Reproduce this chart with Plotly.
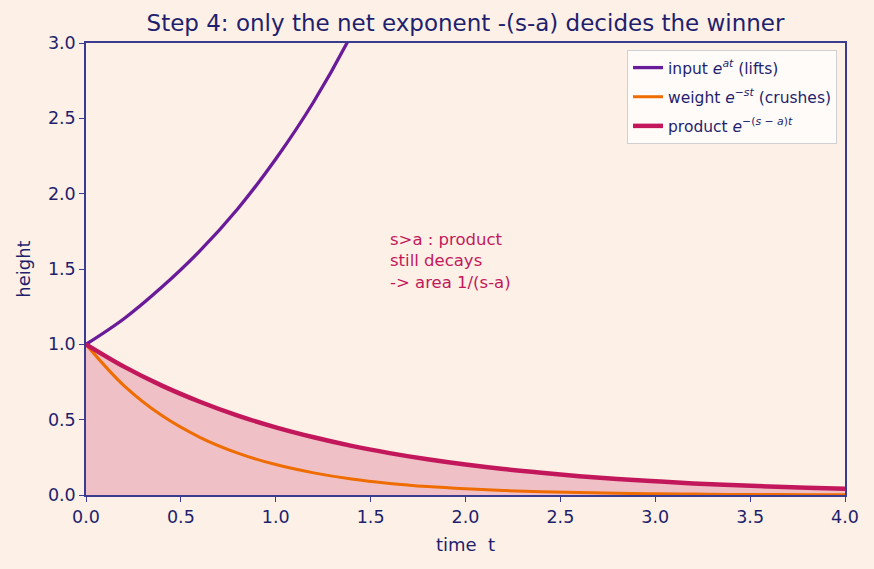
import plotly.graph_objects as go

# time samples
t_input = [0.0, 0.2, 0.4, 0.6, 0.8, 1.0, 1.2, 1.4, 1.6]
input_vals = [1.00, 1.17, 1.38, 1.62, 1.90, 2.23, 2.61, 3.06, 3.60]

t_all = [0.0, 0.2, 0.4, 0.6, 0.8, 1.0, 1.2, 1.4, 1.6, 1.8, 2.0,
         2.2, 2.4, 2.6, 2.8, 3.0, 3.2, 3.4, 3.6, 3.8, 4.0]
weight_vals = [1.00, 0.726, 0.527, 0.383, 0.278, 0.202, 0.147, 0.106, 0.077, 0.056, 0.041,
               0.030, 0.021, 0.016, 0.011, 0.008, 0.006, 0.004, 0.003, 0.002, 0.002]
product_vals = [1.00, 0.852, 0.726, 0.619, 0.527, 0.449, 0.383, 0.326, 0.278, 0.237, 0.202,
                0.172, 0.147, 0.125, 0.106, 0.091, 0.077, 0.066, 0.056, 0.048, 0.041]

x_ticks = [0.0, 0.5, 1.0, 1.5, 2.0, 2.5, 3.0, 3.5, 4.0]
y_ticks = [0.0, 0.5, 1.0, 1.5, 2.0, 2.5, 3.0]

BG = "#fdf0e6"
NAVY = "#1f1f6e"
AXIS = "#3b3b8f"
C_IN = "#6a1b9a"
C_W = "#ef6c00"
C_P = "#c2185b"
FONT = "DejaVu Sans"

fig = go.Figure()
fig.add_trace(go.Scatter(x=t_all, y=product_vals, mode="lines", line=dict(width=0, shape="spline"),
                         fill="tozeroy", fillcolor="rgba(194,24,91,0.22)",
                         showlegend=False, hoverinfo="skip"))
fig.add_trace(go.Scatter(x=t_input, y=input_vals, mode="lines", legendgroup="a",
                         line=dict(color=C_IN, width=3.3, shape="spline"),
                         name="input <i>e</i><sup><i>at</i></sup> (lifts)"))
fig.add_trace(go.Scatter(x=t_all, y=weight_vals, mode="lines", legendgroup="b",
                         line=dict(color=C_W, width=3.0, shape="spline"),
                         name="weight <i>e</i><sup>−<i>st</i></sup> (crushes)"))
fig.add_trace(go.Scatter(x=t_all, y=product_vals, mode="lines", legendgroup="c",
                         line=dict(color=C_P, width=4.5, shape="spline"),
                         name="product <i>e</i><sup>−(<i>s</i> − <i>a</i>)<i>t</i></sup>"))

fig.add_annotation(x=1.59, y=1.77, xref="x", yref="y", xanchor="left", yanchor="top",
                   align="left", showarrow=False,
                   text="s>a : product<br>still decays<br>-> area 1/(s-a)",
                   font=dict(family=FONT, size=16.5, color=C_P))

axis_common = dict(showgrid=False, zeroline=False, showline=True, linecolor=AXIS, linewidth=1.5,
                   mirror=True, ticks="outside", ticklen=5, tickcolor=AXIS, tickwidth=1.3,
                   tickfont=dict(family=FONT, size=17.5, color=NAVY))

fig.update_layout(
    width=874, height=569,
    paper_bgcolor=BG, plot_bgcolor=BG,
    margin=dict(l=86, r=29, t=43, b=74),
    title=dict(text="Step 4: only the net exponent -(s-a) decides the winner",
               x=0.5 + (86 - 29) / 2 / 874, xanchor="center", y=1 - 23 / 569, yanchor="middle",
               font=dict(family=FONT, size=23, color=NAVY)),
    xaxis=dict(range=[0, 4], tickvals=x_ticks, ticktext=[f"{v:.1f}" for v in x_ticks],
               title=dict(text="time&nbsp; t", font=dict(family=FONT, size=18, color=NAVY), standoff=13),
               **axis_common),
    yaxis=dict(range=[0, 3], tickvals=y_ticks, ticktext=[f"{v:.1f}" for v in y_ticks],
               title=dict(text="height", font=dict(family=FONT, size=18, color=NAVY), standoff=13),
               **axis_common),
    legend=dict(x=0.9895, y=0.9845, xanchor="right", yanchor="top",
                bgcolor="rgba(255,255,255,0.75)", bordercolor="#d0d0d0", borderwidth=1,
                tracegroupgap=6,
                font=dict(family=FONT, size=15.5, color=NAVY)),
    showlegend=True,
)

fig.write_html("out.html")
